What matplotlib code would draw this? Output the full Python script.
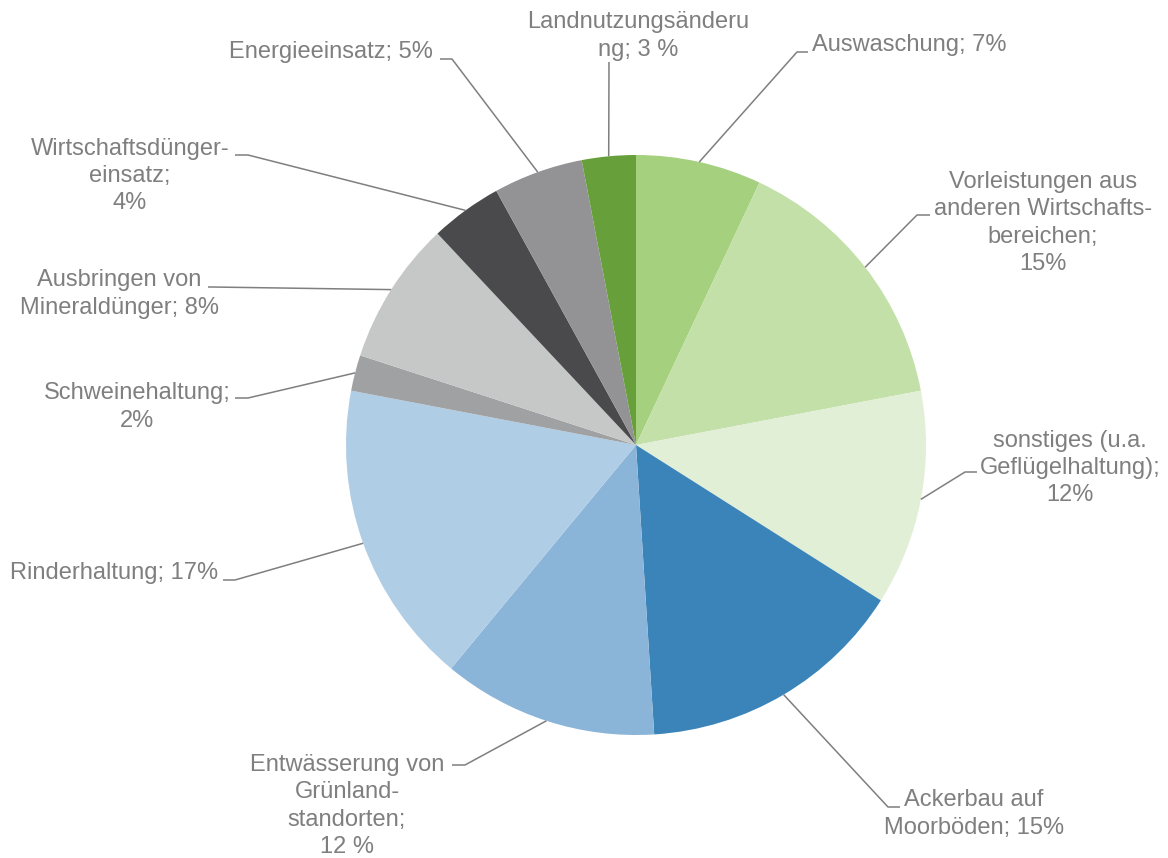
import numpy as np
import matplotlib
matplotlib.use('Agg')
from matplotlib import pyplot as plt

W, H = 1168, 858

# Anteile (Prozent), im Uhrzeigersinn ab 12 Uhr
kategorien = ['Auswaschung', 'Vorleistungen', 'sonstiges', 'Ackerbau', 'Entwässerung',
              'Rinderhaltung', 'Schweinehaltung', 'Ausbringen', 'Wirtschaftsdünger',
              'Energieeinsatz', 'Landnutzungsänderung']
werte = [7, 15, 12, 15, 12, 17, 2, 8, 4, 5, 3]
beschriftungen = [
    'Auswaschung; 7%',
    'Vorleistungen aus\nanderen Wirtschafts-\nbereichen;\n15%',
    'sonstiges (u.a.\nGeflügelhaltung);\n12%',
    'Ackerbau auf\nMoorböden; 15%',
    'Entwässerung von\nGrünland-\nstandorten;\n12 %',
    'Rinderhaltung; 17%',
    'Schweinehaltung;\n2%',
    'Ausbringen von\nMineraldünger; 8%',
    'Wirtschaftsdünger-\neinsatz;\n4%',
    'Energieeinsatz; 5%',
    'Landnutzungsänderu\nng; 3 %',
]
farben = ['#a5d07e', '#c3e0a8', '#e1efd6', '#3b84b9', '#8ab5d8', '#b0cde6',
          '#a0a1a3', '#c6c7c7', '#4a4a4c', '#939395', '#67a03a']

# Position der Texte (Pixel, y von oben), Ausrichtung, Knick und Ende der Führungslinie
text_pos = [(812, 45), (1043, 223), (1070, 468), (974, 814), (347, 806), (218, 573),
            (137, 407), (119, 294), (130, 176), (433, 52), (638, 36)]
text_ha = ['left', 'center', 'center', 'center', 'center', 'right',
           'center', 'center', 'center', 'right', 'center']
knick = [(797, 52), (917, 215), (965, 472), (888, 807), (465, 765), (235, 580),
         (248, 398), (212, 287), (248, 155), (452, 59), (609, 62)]
ende = [(808, 52), (930, 215), (977, 472), (900, 807), (452, 765), (223, 580),
        (235, 398), (208, 287), (235, 155), (440, 59), (609, 62)]

grau = '#7f7f7f'
cx, cy, r = 636, H - 445, 290

plt.rcParams['font.family'] = ['Liberation Sans', 'DejaVu Sans']

fig = plt.figure(figsize=(W / 100, H / 100), dpi=100)
ax = fig.add_axes([0, 0, 1, 1])

wedges, _ = ax.pie(werte, colors=farben, startangle=90, counterclock=False,
                   center=(cx, cy), radius=r, frame=True,
                   wedgeprops=dict(linewidth=0))
ax.set_xlim(0, W)
ax.set_ylim(0, H)
ax.set_aspect('equal')
ax.axis('off')

for w, txt, (tx, ty), ha, (kx, ky), (ex, ey) in zip(wedges, beschriftungen, text_pos,
                                                     text_ha, knick, ende):
    mid = np.deg2rad((w.theta1 + w.theta2) / 2)
    sx, sy = cx + r * np.cos(mid), cy + r * np.sin(mid)
    ax.plot([sx, kx, ex], [sy, H - ky, H - ey], color=grau, lw=1.1,
            solid_capstyle='butt')
    ax.text(tx, H - ty, txt, ha=ha, va='center', multialignment='center',
            fontsize=17, color=grau, linespacing=1.3)

fig.savefig('out.png', dpi=100)
